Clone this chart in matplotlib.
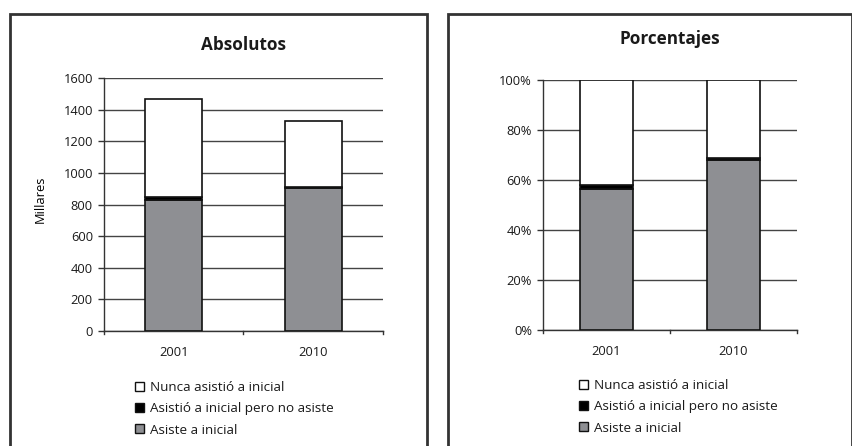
import matplotlib.pyplot as plt
from matplotlib.patches import Rectangle
import numpy as np

# Niños según asistencia a educación inicial, en miles
years = ["2001", "2010"]
asiste = [828, 905]
asistio_no_asiste = [22, 8]
nunca_asistio = [618, 415]

labels = ["Asiste a inicial", "Asistió a inicial pero no asiste",
          "Nunca asistió a inicial"]
colors = ["#8e8f93", "#000000", "#ffffff"]

abs_ticks = [0, 200, 400, 600, 800, 1000, 1200, 1400, 1600]
pct_ticks = [0, 20, 40, 60, 80, 100]
pct_labels = ["0%", "20%", "40%", "60%", "80%", "100%"]

plt.rcParams["font.family"] = ["Open Sans", "DejaVu Sans"]
plt.rcParams["text.color"] = "#1a1a1a"

W, H = 853, 446
fig = plt.figure(figsize=(W / 100, H / 100), dpi=100)


def px_axes(x0, y0, x1, y1):
    return fig.add_axes([x0 / W, 1 - y1 / H, (x1 - x0) / W, (y1 - y0) / H])


def draw_panel(ax, series, ymax, ticks, ticklabels, title, title_pad,
               legend_xy):
    x = np.arange(len(years))
    bottom = np.zeros(len(years))
    handles = []
    for vals, lab, col in zip(series, labels, colors):
        b = ax.bar(x, vals, bottom=bottom, width=0.41, color=col,
                   edgecolor="#111111", linewidth=1.2, label=lab, zorder=3)
        bottom += np.array(vals)
        handles.append(b)
    ax.set_xlim(-0.5, len(years) - 0.5)
    ax.set_ylim(0, ymax)
    ax.set_yticks(ticks)
    ax.set_yticklabels(ticklabels, fontsize=9.3, color="#1a1a1a")
    ax.set_xticks(x)
    ax.set_xticklabels(years, fontsize=9.3, color="#1a1a1a")
    ax.tick_params(axis="x", length=0, pad=11)
    ax.tick_params(axis="y", length=4, width=1, color="#333333", pad=4)
    # tick marks between categories on the x axis
    for xb in [-0.5, 0.5, 1.5]:
        ax.plot([xb, xb], [0, -ymax * 0.012], color="#333333", lw=1,
                clip_on=False)
    ax.grid(axis="y", color="#444444", linewidth=1, zorder=0)
    for s in ["top", "right"]:
        ax.spines[s].set_visible(False)
    for s in ["left", "bottom"]:
        ax.spines[s].set_color("#333333")
        ax.spines[s].set_linewidth(1)
    ax.set_title(title, fontsize=12.3, fontweight="bold", pad=title_pad)
    leg = fig.legend(handles[::-1], labels[::-1], loc="upper left",
                     bbox_to_anchor=(legend_xy[0] / W, 1 - legend_xy[1] / H),
                     frameon=False, fontsize=9.7, handlelength=0.65,
                     handleheight=0.65, handletextpad=0.45, labelspacing=0.62,
                     borderpad=0, borderaxespad=0)
    for h in leg.legend_handles:
        h.set_edgecolor("#111111")
        h.set_linewidth(1)


# Absolutos
ax1 = px_axes(104, 78, 383, 331)
draw_panel(ax1, [asiste, asistio_no_asiste, nunca_asistio], 1600,
           abs_ticks, [str(t) for t in abs_ticks], "Absolutos", 20,
           (135, 381))
ax1.set_ylabel("Millares", fontsize=9.3)
ax1.yaxis.set_label_coords(-0.205, 0.52)

# Porcentajes
totals = np.array(asiste) + np.array(asistio_no_asiste) + np.array(nunca_asistio)
pct = [list(np.array(s) / totals * 100)
       for s in (asiste, asistio_no_asiste, nunca_asistio)]
ax2 = px_axes(543, 80, 797, 330)
draw_panel(ax2, pct, 100, pct_ticks, pct_labels, "Porcentajes", 26,
           (579, 379))

# panel frames, open at the bottom edge
for x0, x1 in [(10, 427), (448, 852)]:
    fig.add_artist(Rectangle((x0 / W, -0.05), (x1 - x0) / W,
                             1.05 - 14 / H, transform=fig.transFigure,
                             fill=False, edgecolor="#333333", linewidth=2))

fig.savefig("out.png", dpi=100)
